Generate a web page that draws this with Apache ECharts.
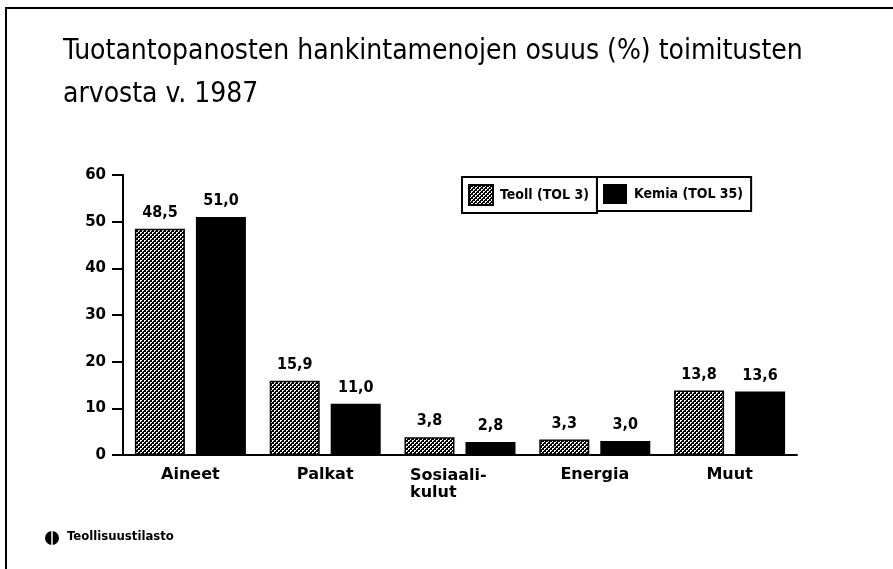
<!DOCTYPE html>
<html>
<head>
<meta charset="utf-8">
<script src="https://cdn.jsdelivr.net/npm/echarts@6/dist/echarts.min.js"></script>
<style>
  html, body { margin: 0; padding: 0; background: #fff; }
  #chart { width: 893px; height: 569px; }
</style>
</head>
<body>
<div id="chart"></div>
<script>
// kategoriat ja arvot (%)
var categories = ["Aineet", "Palkat", "Sosiaali-\nkulut", "Energia", "Muut"];
var teoll = [48.5, 15.9, 3.8, 3.3, 13.8];
var kemia = [51.0, 11.0, 2.8, 3.0, 13.6];
var seriesNames = ["Teoll (TOL 3)", "Kemia (TOL 35)"];
var yTicks = [0, 10, 20, 30, 40, 50, 60];

// rasterikuvio (pisteet mustalla pohjalla)
function makePattern() {
  var c = document.createElement("canvas");
  c.width = 4; c.height = 4;
  var ctx = c.getContext("2d");
  ctx.fillStyle = "#000";
  ctx.fillRect(0, 0, 4, 4);
  ctx.fillStyle = "#fff";
  ctx.fillRect(0, 0, 2, 1);
  ctx.fillRect(0, 1, 1, 1);
  ctx.fillRect(2, 2, 2, 1);
  ctx.fillRect(2, 3, 1, 1);
  return c;
}
var pattern = { image: makePattern(), repeat: "repeat" };

var narrow = "'Liberation Sans Narrow', 'DejaVu Sans Condensed', sans-serif";
var wide = "'DejaVu Sans', sans-serif";

function fmt(p) {
  return p.value.toFixed(1).replace(".", ",");
}

var legendBase = {
  top: 177,
  orient: "horizontal",
  borderColor: "#000",
  borderWidth: 2,
  padding: [7, 8, 7, 6],
  itemWidth: 24,
  itemHeight: 20,
  icon: "rect",
  selectedMode: false,
  textStyle: { fontFamily: narrow, fontWeight: "bold", fontSize: 14, color: "#000", padding: [0, 0, 0, 2] }
};

var option = {
  backgroundColor: "#fff",
  animation: false,
  title: {
    text: "Tuotantopanosten hankintamenojen osuus (%) toimitusten\narvosta v. 1987",
    left: 58,
    top: 25,
    textStyle: { fontFamily: narrow, fontWeight: "normal", fontSize: 28, lineHeight: 43, color: "#000" }
  },
  legend: [
    Object.assign({}, legendBase, { left: 462, data: [seriesNames[0]] }),
    Object.assign({}, legendBase, { left: 597, data: [seriesNames[1]] })
  ],
  grid: { left: 123, right: 96, top: 175, bottom: 114 },
  xAxis: {
    type: "category",
    data: categories,
    axisLine: { lineStyle: { color: "#000", width: 2 } },
    axisTick: { show: false },
    axisLabel: {
      interval: 0,
      margin: 12,
      color: "#000",
      fontFamily: wide,
      fontWeight: "bold",
      fontSize: 16,
      formatter: function (v) {
        var parts = v.split("\n");
        if (parts.length > 1) {
          return parts.map(function (s) { return "{l|" + s + "}"; }).join("\n");
        }
        return v;
      },
      rich: {
        l: { width: 100, align: "left", fontFamily: wide, fontWeight: "bold", fontSize: 16, color: "#000", lineHeight: 17 }
      }
    }
  },
  yAxis: {
    type: "value",
    min: yTicks[0],
    max: yTicks[yTicks.length - 1],
    interval: 10,
    axisLine: { show: true, lineStyle: { color: "#000", width: 2 } },
    axisTick: { show: true, length: 11, lineStyle: { color: "#000", width: 2 } },
    splitLine: { show: false },
    axisLabel: { color: "#000", fontFamily: wide, fontWeight: "bold", fontSize: 15, margin: 17 }
  },
  series: [
    {
      name: seriesNames[0],
      type: "bar",
      data: teoll,
      barWidth: 50,
      barGap: "22%",
      itemStyle: { color: pattern, borderColor: "#000", borderWidth: 1.5 },
      label: { show: true, position: "top", distance: 8, formatter: fmt, fontFamily: narrow, fontWeight: "bold", fontSize: 16, color: "#000" }
    },
    {
      name: seriesNames[1],
      type: "bar",
      data: kemia,
      barWidth: 50,
      itemStyle: { color: "#000" },
      label: { show: true, position: "top", distance: 8, formatter: fmt, fontFamily: narrow, fontWeight: "bold", fontSize: 16, color: "#000" }
    }
  ],
  graphic: [
    // kehys
    { type: "line", shape: { x1: 5, y1: 8, x2: 893, y2: 8 }, style: { stroke: "#000", lineWidth: 2 } },
    { type: "line", shape: { x1: 6, y1: 8, x2: 6, y2: 569 }, style: { stroke: "#000", lineWidth: 2 } },
    // logo
    { type: "circle", shape: { cx: 52, cy: 538, r: 7 }, style: { fill: "#000" } },
    { type: "line", shape: { x1: 52, y1: 530, x2: 52, y2: 546 }, style: { stroke: "#fff", lineWidth: 1.5 } },
    { type: "text", left: 67, top: 530, style: { text: "Teollisuustilasto", fontFamily: narrow, fontWeight: "bold", fontSize: 13, fill: "#000" } }
  ]
};

var chartObj = echarts.init(document.getElementById("chart"));
chartObj.setOption(option);
window.addEventListener("resize", function () { chartObj.resize(); });
</script>
</body>
</html>
